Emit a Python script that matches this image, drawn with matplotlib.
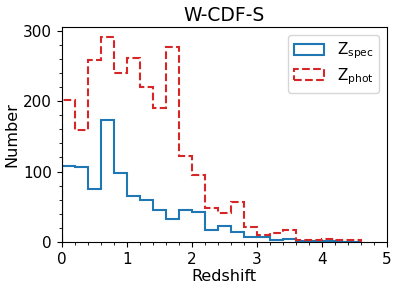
import numpy as np
import matplotlib
matplotlib.use("Agg")
import matplotlib.pyplot as plt
from matplotlib.ticker import MultipleLocator

# histogram bins (width 0.2) and counts
edges = np.round(np.arange(0, 4.61, 0.2), 2)
z_spec = [108, 106, 75, 173, 98, 65, 59, 45, 33, 45, 42, 17, 23, 14,
          7, 7, 3, 4, 1, 1, 1, 0, 0]
z_phot = [201, 159, 259, 291, 240, 261, 220, 191, 277, 122, 95, 48, 41, 57,
          21, 10, 12, 17, 2, 2, 4, 2, 2]

centers = 0.5 * (edges[:-1] + edges[1:])

fig = plt.figure(figsize=(3.99, 2.9), dpi=100)
ax = fig.add_subplot(111)
fig.subplots_adjust(left=0.155, right=0.97, top=0.907, bottom=0.166)

ax.hist(centers, bins=edges, weights=z_spec, histtype='step',
        color='#1f77b4', lw=1.5, label=r'Z$_{\rm spec}$')
ax.hist(centers, bins=edges, weights=z_phot, histtype='step',
        color='#d62728', lw=1.5, ls='--', label=r'Z$_{\rm phot}$')

ax.set_xlim(0, 5)
ax.xaxis.set_major_locator(MultipleLocator(1))
ax.xaxis.set_minor_locator(MultipleLocator(0.2))
ax.yaxis.set_major_locator(MultipleLocator(100))
ax.yaxis.set_minor_locator(MultipleLocator(20))
ax.tick_params(labelsize=11)

ax.set_xlabel("Redshift", fontsize=11.5, labelpad=2)
ax.set_ylabel("Number", fontsize=11.5, labelpad=3)
ax.set_title("W-CDF-S", fontsize=13.5, pad=4)
ax.legend(loc='upper right', fontsize=11, labelspacing=0.3)

fig.savefig("out.png", dpi=100)
